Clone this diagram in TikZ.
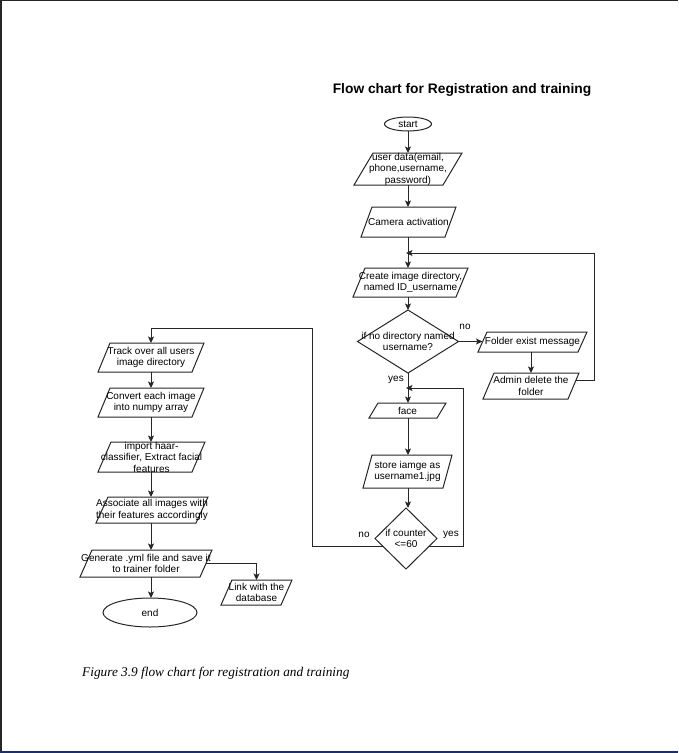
\documentclass[tikz,border=0pt]{standalone}
\usepackage{fontspec}
\setmainfont{Liberation Sans}
\newfontfamily\capfont{Liberation Serif}
\usetikzlibrary{shapes.geometric,arrows.meta,calc}
\definecolor{navyline}{HTML}{1B2F66}
\definecolor{lncol}{HTML}{262626}
\tikzset{
 ln/.style={draw=lncol, line width=1pt},
 ar/.style={ln, -{Stealth[length=6.5pt,width=6pt,inset=1.5pt]}},
 txt/.style={font=\fontsize{10}{11.5}\selectfont, align=center, inner sep=0pt, text=black},
 frame/.style={draw=none, inner sep=0pt, outer sep=0pt},
 lbl/.style={font=\fontsize{10}{11.5}\selectfont, inner sep=0pt, text=black},
 oval/.style={ellipse, ln, inner sep=0pt, outer sep=0pt},
 dec/.style={diamond, ln, inner sep=0pt, outer sep=0pt},
}
\newcommand\pbox[7]{%
 \node[frame, minimum width=#4pt, minimum height=#5pt] (#1) at (#2,#3) {};
 \draw[ln] ([xshift=#6pt]#1.north west) -- (#1.north east) -- ([xshift=-#6pt]#1.south east) -- (#1.south west) -- cycle;
 \node[txt] (#1-t) at (#1) {#7};
}
\begin{document}
\begin{tikzpicture}[x=1pt,y=-1pt]
\useasboundingbox (0,0) rectangle (678,753);
% page edges
\fill[black!85] (0,0) rectangle (678,1);
\fill[black!85] (0,0) rectangle (2,753);
\fill[navyline] (0,750.5) rectangle (678,753);

% title
\node[inner sep=0pt, font=\fontsize{13.8}{16}\selectfont\bfseries] (title) at (462,90) {Flow chart for Registration and training};

% main column
\node[oval, minimum width=47pt, minimum height=14pt] (start) at (408,124) {};
\node[txt] (start-t) at (start) {start};
\pbox{ud}{408}{169}{108}{32}{19}{user data(email,\\phone,username,\\password)}
\pbox{cam}{408.5}{222}{95}{30}{11}{Camera activation}
\pbox{create}{410.5}{282.5}{115}{29}{12}{Create image directory,\\named ID\_username}
\node[dec, minimum width=101pt, minimum height=63pt] (d1) at (408,341.5) {};
\node[txt] (d1-t) at (408,341.5) {if no directory named\\username?};
\pbox{folder}{532.5}{342}{109}{20}{9}{Folder exist message}
\pbox{admin}{531}{386}{96}{26}{11}{Admin delete the\\folder}
\pbox{face}{407.5}{410.5}{77}{15}{9}{face}
\pbox{store}{407.5}{471.5}{89}{33}{9}{store iamge as\\username1.jpg}
\node[dec, minimum width=62pt, minimum height=61pt] (cnt) at (406,538.5) {};
\node[txt] (cnt-t) at (406,538.5) {if counter\\<=60};

% left column
\pbox{track}{151}{357.5}{106}{29}{12}{Track over all users\\image directory}
\pbox{conv}{151}{402.5}{106}{29}{12}{Convert each image\\into numpy array}
\pbox{haar}{151.5}{457}{107}{30}{13}{import haar-\\classifier, Extract facial\\features}
\pbox{assoc}{152}{510}{112}{26}{12}{Associate all images with\\their features accordingly}
\pbox{gen}{146}{563.5}{132}{27}{12}{Generate .yml file and save it\\to trainer folder}
\pbox{link}{256.5}{592.5}{71}{25}{11}{Link with the\\database}
\node[oval, minimum width=94pt, minimum height=29pt] (end) at (150,612.5) {};
\node[txt] (end-t) at (end) {end};

% labels
\node[lbl] (no1) at (465,327) {no};
\node[lbl] (yes1) at (396,380) {yes};
\node[lbl] (no2) at (364,535) {no};
\node[lbl] (yes2) at (451,535) {yes};

% caption
\node[inner sep=0pt, anchor=west, font=\capfont\itshape\fontsize{13.3}{15}\selectfont] (cap) at (82,673) {Figure 3.9 flow chart for registration and training};

% helper coordinates
\coordinate (j1) at (408,253);
\coordinate (j2) at (408,388);
\coordinate (adminR) at (576,380);
\coordinate (c1) at (594,380);
\coordinate (c2) at (594,253);
\coordinate (folderL) at (482.5,341.5);
\coordinate (cR) at ($(cnt.east)!0.25!(cnt.south)$);
\coordinate (cL) at ($(cnt.west)!0.25!(cnt.south)$);
\coordinate (c4) at (463,388);
\coordinate (c5) at (312,328);
\coordinate (genR) at ([xshift=-6pt]gen.east);

% connectors main column
\draw[ar] (start.south) -- (start.south |- ud.north);
\draw[ar] (ud.south) -- (ud.south |- cam.north);
\draw[ar] (cam.south -| start.south) -- (start.south |- create.north);
\draw[ar] (adminR) -- (c1) -- (c2) -- ([xshift=-2pt]j1);
\draw[ar] (start.south |- create.south) -- (d1.north);
\draw[ar] (d1.east) -- (folderL);
\draw[ar] (folder.south -| admin.north) -- (admin.north);
\draw[ar] (d1.south) -- (d1.south |- face.north);
\draw[ar] (cR) -- (cR -| c4) -- (c4) -- ([xshift=-2pt]j2);
\draw[ar] (d1.south |- face.south) -- (d1.south |- store.north);
\draw[ar] (d1.south |- store.south) -- (d1.south |- cnt.north);

% left loop
\draw[ar] (cL) -- (cL -| c5) -- (c5) -- (c5 -| track.north) -- (track.north);

% left column
\draw[ar] (track.south) -- (track.south |- conv.north);
\draw[ar] (track.south |- conv.south) -- (track.south |- haar.north);
\draw[ar] (track.south |- haar.south) -- (track.south |- assoc.north);
\draw[ar] (track.south |- assoc.south) -- (track.south |- gen.north);
\draw[ar] (track.south |- gen.south) -- (track.south |- end.north);
\draw[ar] (genR) -- (genR -| link.north) -- (link.north);
\end{tikzpicture}
\end{document}
